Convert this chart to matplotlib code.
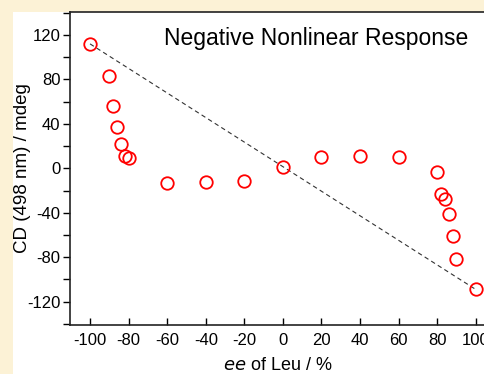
import matplotlib.pyplot as plt
from matplotlib.patches import Rectangle

plt.rcParams['font.family'] = ['Liberation Sans', 'DejaVu Sans']
plt.rcParams['axes.unicode_minus'] = False

# ee of Leu (%) and CD signal at 498 nm (mdeg)
ee = [-100, -90, -88, -86, -84, -82, -80, -60, -40, -20, 0, 20, 40, 60,
      80, 82, 84, 86, 88, 90, 100]
cd = [112, 83, 56, 37, 22, 11, 9, -13, -12, -11, 1.5, 10, 11, 10.5,
      -3.5, -23, -28, -41, -61, -82, -109]

# linear reference between the enantiopure ends
line_x = [-100, 100]
line_y = [112, -109]

xticks = [-100, -80, -60, -40, -20, 0, 20, 40, 60, 80, 100]
yticks = [-120, -80, -40, 0, 40, 80, 120]

fig = plt.figure(figsize=(4.85, 3.74), dpi=100)
fig.patch.set_facecolor('#fcf2d6')
fig.patches.append(Rectangle((13 / 485, 0), 1, 1 - 12 / 374, transform=fig.transFigure,
                             facecolor='white', edgecolor='none', zorder=-10))

ax = fig.add_axes([70 / 485, 1 - 325 / 374, 1 - 70 / 485, (325 - 12) / 374])
ax.set_facecolor('white')

ax.plot(line_x, line_y, color='#333333', lw=0.8, ls=(0, (4, 3)), zorder=2)
ax.plot(ee, cd, ls='none', marker='o', ms=9, mfc='none', mec='red', mew=1.3, zorder=3)

ax.set_xlim(-110.4, 104.8)
ax.set_ylim(-141, 140.7)
ax.set_xticks(xticks)
ax.set_yticks(yticks)
ax.set_yticks(range(-140, 141, 20), minor=True)
ax.tick_params(axis='y', which='both', direction='out', length=5, width=1, labelsize=12, pad=2)
ax.tick_params(axis='y', which='minor', labelleft=False)
ax.tick_params(axis='x', direction='in', length=5, width=1, labelsize=12, pad=6)

ax.spines['right'].set_visible(False)
for s in ['left', 'bottom', 'top']:
    ax.spines[s].set_linewidth(1.2)
    ax.spines[s].set_color('#222222')

ax.set_ylabel('CD (498 nm) / mdeg', fontsize=13.5, labelpad=-3)
ax.set_xlabel(r'$\mathit{ee}$ of Leu / %', fontsize=13, labelpad=6)

ax.text(0.96, 0.915, 'Negative Nonlinear Response', transform=ax.transAxes,
        ha='right', va='center', fontsize=16.5)

fig.savefig('out.png', dpi=100, facecolor=fig.get_facecolor())
